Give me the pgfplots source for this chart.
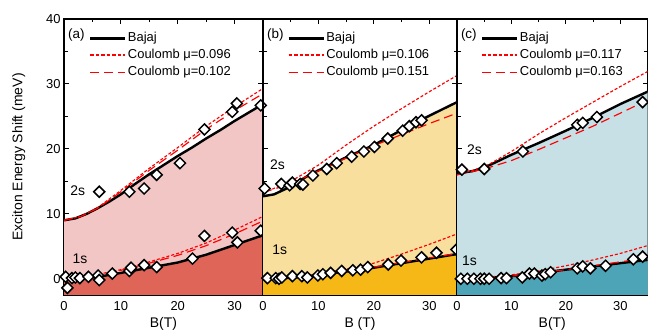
\documentclass[border=0pt]{standalone}
\usepackage{fontspec}
\setmainfont{Liberation Sans}
\usepackage{pgfplots}
\pgfplotsset{compat=1.18}
\definecolor{aL}{HTML}{F3C6C6}
\definecolor{aD}{HTML}{DF6558}
\definecolor{bL}{HTML}{F8DF9E}
\definecolor{bD}{HTML}{F5B817}
\definecolor{cL}{HTML}{C6E0E6}
\definecolor{cD}{HTML}{4DA4B7}
\definecolor{myred}{HTML}{FF0000}
\pgfplotsset{
  bajline/.style={color=black, line width=2.4bp,
    legend image code/.code={\draw[black, line width=2.4bp] (0bp,0bp) -- (35bp,0bp);}},
  coulshort/.style={color=myred, line width=1.15bp, dash pattern=on 3bp off 2bp,
    legend image code/.code={\draw[myred, line width=1.4bp, dash pattern=on 3.5bp off 2bp] (0bp,0.4bp) -- (35bp,0.4bp);}},
  coullong/.style={color=myred, line width=1.15bp, dash pattern=on 9bp off 5bp,
    legend image code/.code={\draw[myred, line width=1.25bp, dash pattern=on 9bp off 5bp] (0bp,0bp) -- (35bp,0bp);}},
  dia/.style={only marks, mark=square*, mark size=3.9bp,
    mark options={rotate=45, fill=white, draw=black, line width=1.5bp}},
  panel/.style={
    scale only axis, height=276bp,
    xmin=0, xmax=35, ymin=-2.5, ymax=40,
    xtick={0,10,20,30}, minor x tick num=1,
    ytick={0,10,20,30,40}, minor y tick num=1,
    tick align=inside, xtick pos=both, ytick pos=both,
    major tick length=5bp, minor tick length=3.5bp,
    every tick/.style={black, line width=0.9bp},
    axis line style={line width=1.1bp},
    tick label style={font=\fontsize{13}{15}\selectfont},
    xticklabel style={yshift=-2.5bp},
    /pgf/number format/assume math mode=true,
    label style={font=\fontsize{14}{16}\selectfont},
    xlabel style={yshift=0bp},
    ylabel style={yshift=14bp},
    clip mode=individual,
    legend cell align=left,
    legend style={draw=none, fill=none, inner sep=0pt, anchor=north west,
      at={(rel axis cs:0.125,0.957)},
      row sep=2bp,
      nodes={font=\fontsize{13}{15}\selectfont, inner sep=1.5bp, text height=9bp, text depth=3bp},
      /tikz/every even column/.append style={column sep=1bp}},
  },
}
\begin{document}
\begin{tikzpicture}
\path[use as bounding box] (0,0) rectangle (648bp,336bp);
% ---------------- (a)
\begin{axis}[panel, at={(64bp,41bp)}, anchor=south west, width=199bp,
  xlabel={B(T)}, ylabel={Exciton Energy Shift (meV)}]
\addplot[draw=none, fill=aL, forget plot] coordinates {(0,-5) (0,9.0)(2,9.3)(4,10.0)(6,10.9)(8,11.9)(10,13.0)(12.5,14.6)(15,16.1)(17.5,17.5)(20,18.9)(22.5,20.2)(25,21.6)(27.5,22.9)(30,24.3)(32.5,25.6)(35,26.9) (35,-5)};
\addplot[draw=none, fill=aD, forget plot] coordinates {(0,-5) (0,0)(3,0.1)(6,0.3)(10,0.9)(15,1.7)(20,2.5)(25,3.7)(30,5.2)(35,6.7) (35,-5)};
\addplot[bajline] coordinates {(0,9.0)(2,9.3)(4,10.0)(6,10.9)(8,11.9)(10,13.0)(12.5,14.6)(15,16.1)(17.5,17.5)(20,18.9)(22.5,20.2)(25,21.6)(27.5,22.9)(30,24.3)(32.5,25.6)(35,26.9)};
\addlegendentry{Bajaj}
\addplot[coulshort] coordinates {(0,9.0)(3,9.6)(6,11.0)(10,13.6)(15,17.0)(20,20.2)(25,23.5)(30,26.5)(35,29.3)};
\addlegendentry{Coulomb μ=0.096}
\addplot[coullong] coordinates {(0,9.0)(3,9.6)(6,10.9)(10,13.4)(15,16.7)(20,19.8)(25,23.0)(30,25.9)(35,28.5)};
\addlegendentry{Coulomb μ=0.102}
\addplot[bajline, forget plot] coordinates {(0,0)(3,0.1)(6,0.3)(10,0.9)(15,1.7)(20,2.5)(25,3.7)(30,5.2)(35,6.7)};
\addplot[coulshort, forget plot] coordinates {(0,0)(5,0.5)(10,1.4)(15,2.6)(20,3.9)(25,5.5)(30,7.5)(35,9.6)};
\addplot[coullong, forget plot] coordinates {(0,0)(5,0.45)(10,1.3)(15,2.4)(20,3.6)(25,5.1)(30,6.9)(35,8.9)};
\addplot[dia, forget plot] coordinates {(6.2,13.4)(11.5,13.4)(14.1,13.9)(16.3,16.0)(20.4,17.8)(24.7,23.0)(29.6,25.7)(30.4,27.0)(34.6,26.7)};
\addplot[dia, forget plot] coordinates {(0.3,0.3)(0.6,-1.4)(1.4,0.1)(2.0,0.2)(2.8,0.1)(4.3,0.3)(6.0,0.5)(6.2,-0.2)(8.5,0.8)(11.5,1.2)(11.8,1.7)(14.1,2.1)(16.3,1.8)(22.6,3.1)(24.7,6.6)(29.6,7.1)(30.5,5.6)(34.6,7.4)};
\node[font=\fontsize{14}{16}\selectfont] at (axis cs:2.4,13.6) {2s};
\node[font=\fontsize{14}{16}\selectfont] at (axis cs:2.8,3.1) {1s};
\node[font=\fontsize{13.5}{15}\selectfont, anchor=west, inner sep=0pt] at (rel axis cs:0.02,0.942) {(a)};
\end{axis}
% ---------------- (b)
\begin{axis}[panel, at={(263bp,41bp)}, anchor=south west, width=194bp,
  xlabel={B (T)}, yticklabels={}]
\addplot[draw=none, fill=bL, forget plot] coordinates {(0,-5) (0,12.7)(2,13.0)(4,13.8)(6,14.8)(8,15.8)(10,16.7)(15,18.7)(20,20.6)(25,22.9)(30,25.1)(35,27.2) (35,-5)};
\addplot[draw=none, fill=bD, forget plot] coordinates {(0,-5) (0,0)(3,0.05)(6,0.2)(10,0.6)(15,1.1)(20,1.7)(25,2.4)(30,3.1)(35,3.8) (35,-5)};
\addplot[bajline] coordinates {(0,12.7)(2,13.0)(4,13.8)(6,14.8)(8,15.8)(10,16.7)(15,18.7)(20,20.6)(25,22.9)(30,25.1)(35,27.2)};
\addlegendentry{Bajaj}
\addplot[coulshort] coordinates {(0,13.2)(5,15.0)(10,17.5)(15,20.6)(20,23.5)(25,26.2)(30,28.8)(35,31.3)};
\addlegendentry{Coulomb μ=0.106}
\addplot[coullong] coordinates {(0,13.3)(5,14.6)(10,16.6)(15,18.6)(20,20.5)(25,22.2)(30,23.9)(35,25.5)};
\addlegendentry{Coulomb μ=0.151}
\addplot[bajline, forget plot] coordinates {(0,0)(3,0.05)(6,0.2)(10,0.6)(15,1.1)(20,1.7)(25,2.4)(30,3.1)(35,3.8)};
\addplot[coulshort, forget plot] coordinates {(0,0)(5,0.3)(10,0.8)(15,1.5)(20,2.4)(25,3.8)(30,5.3)(35,6.9)};
\addplot[coullong, forget plot] coordinates {(0,0)(5,0.15)(10,0.6)(15,1.1)(20,1.8)(25,2.5)(30,3.2)(35,3.9)};
\addplot[dia, forget plot] coordinates {(0.3,13.9)(3.3,14.6)(4.8,14.4)(5.3,14.8)(6.7,14.6)(7.2,14.5)(9.0,15.9)(11.5,16.9)(13.3,17.8)(16.0,18.8)(18.2,19.6)(20.1,20.3)(22.5,21.6)(25.2,22.8)(26.4,23.5)(27.6,24.1)(28.6,24.4)};
\addplot[dia, forget plot] coordinates {(0.8,0.1)(2.3,0.1)(2.9,0.0)(3.4,0.2)(5.3,0.4)(7.0,0.4)(8.0,0.2)(9.9,0.5)(10.8,0.7)(12.2,0.9)(14.2,1.2)(16.2,1.3)(17.6,1.4)(18.9,1.8)(22.6,2.2)(24.9,2.8)(28.6,3.3)(31.3,4.0)(34.9,4.5)};
\node[font=\fontsize{14}{16}\selectfont] at (axis cs:2.6,17.6) {2s};
\node[font=\fontsize{14}{16}\selectfont] at (axis cs:3.0,4.4) {1s};
\node[font=\fontsize{13.5}{15}\selectfont, anchor=west, inner sep=0pt] at (rel axis cs:0.02,0.942) {(b)};
\end{axis}
% ---------------- (c)
\begin{axis}[panel, at={(457bp,41bp)}, anchor=south west, width=190.5bp,
  xlabel={B(T)}, yticklabels={}]
\addplot[draw=none, fill=cL, forget plot] coordinates {(0,-5) (0,16.2)(3,16.6)(6,17.5)(10,19.1)(15,20.9)(20,22.8)(25,24.8)(30,26.9)(35,28.8) (35,-5)};
\addplot[draw=none, fill=cD, forget plot] coordinates {(0,-5) (0,0)(5,0.1)(10,0.4)(15,0.9)(20,1.4)(25,1.9)(30,2.4)(35,2.9) (35,-5)};
\addplot[bajline] coordinates {(0,16.2)(3,16.6)(6,17.5)(10,19.1)(15,20.9)(20,22.8)(25,24.8)(30,26.9)(35,28.8)};
\addlegendentry{Bajaj}
\addplot[coulshort] coordinates {(0,16.0)(5,17.2)(10,19.6)(15,22.3)(20,24.8)(25,27.2)(30,29.6)(35,31.9)};
\addlegendentry{Coulomb μ=0.117}
\addplot[coullong] coordinates {(0,16.0)(5,16.9)(10,18.2)(15,19.9)(20,21.7)(25,23.5)(30,25.5)(35,27.5)};
\addlegendentry{Coulomb μ=0.163}
\addplot[bajline, forget plot] coordinates {(0,0)(5,0.1)(10,0.4)(15,0.9)(20,1.4)(25,1.9)(30,2.4)(35,2.9)};
\addplot[coulshort, forget plot] coordinates {(0,0)(5,0.2)(10,0.6)(15,1.2)(20,2.0)(25,2.9)(30,3.9)(35,5.1)};
\addplot[coullong, forget plot] coordinates {(0,0)(5,0.1)(10,0.4)(15,0.9)(20,1.4)(25,2.0)(30,2.6)(35,3.2)};
\addplot[dia, forget plot] coordinates {(0.9,16.8)(5.0,16.9)(12.1,19.6)(22.1,23.7)(23.1,24.0)(25.7,24.9)(34.1,27.2)};
\addplot[dia, forget plot] coordinates {(0.7,0.0)(1.9,0.0)(3.1,0.0)(4.3,0.0)(5.0,0.0)(5.9,0.0)(8.1,0.1)(9.1,0.1)(12.0,0.2)(13.3,0.8)(14.2,0.8)(15.6,0.5)(16.2,0.7)(17.2,1.0)(22.1,1.6)(23.1,1.9)(24.5,1.6)(27.3,2.0)(32.4,3.0)(34.1,3.4)};
\node[font=\fontsize{14}{16}\selectfont] at (axis cs:3.2,19.9) {2s};
\node[font=\fontsize{14}{16}\selectfont] at (axis cs:2.3,2.7) {1s};
\node[font=\fontsize{13.5}{15}\selectfont, anchor=west, inner sep=0pt] at (rel axis cs:0.02,0.942) {(c)};
\end{axis}
\end{tikzpicture}
\end{document}
